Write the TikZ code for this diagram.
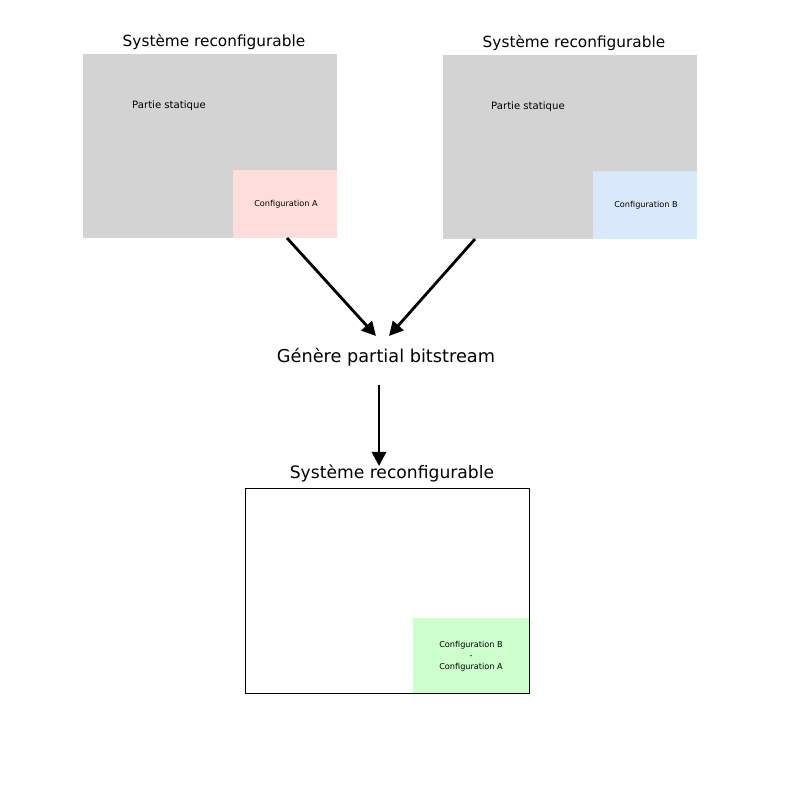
\documentclass[tikz,border=0pt]{standalone}
\usepackage{fontspec}
\setmainfont{DejaVu Sans}
\usetikzlibrary{arrows.meta, calc}

\definecolor{grisStat}{RGB}{211,211,211}
\definecolor{roseA}{RGB}{255,221,221}
\definecolor{bleuB}{RGB}{218,232,252}
\definecolor{vertDiff}{RGB}{204,255,204}

\tikzset{
  titre/.style={font=\fontsize{10.9}{13}\selectfont},
  petit/.style={font=\fontsize{5.8}{7.5}\selectfont, align=center},
  fleche/.style={line width=2pt, -{Triangle[length=10pt, width=10pt]}}
}

\begin{document}
\begin{tikzpicture}[x=0.025cm, y=-0.025cm]
\useasboundingbox (0,0) rectangle (800,800);

% premier systeme
\node[titre] (titreA) at (214,42) {Système reconfigurable};
\fill[grisStat] (83,54) rectangle (337,238);
\node[petit, font=\fontsize{7.2}{9}\selectfont] (statA) at (169,106) {Partie statique};
\fill[roseA] (233,170) rectangle (337,238);
\node[petit] (cfgA) at (286,204) {Configuration A};
\coordinate (basA) at (287,238);

% second systeme
\node[titre] (titreB) at (574,43) {Système reconfigurable};
\fill[grisStat] (443,55) rectangle (697,239);
\node[petit, font=\fontsize{7.2}{9}\selectfont] (statB) at (528,107) {Partie statique};
\fill[bleuB] (593,171) rectangle (697,239);
\node[petit] (cfgB) at (646,205) {Configuration B};
\coordinate (basB) at (475,239);

% generation
\node[font=\fontsize{12.6}{15}\selectfont] (gen) at (386,357) {Génère partial bitstream};
\coordinate (entreeA) at (376,336);
\coordinate (entreeB) at (389,336);
\draw[fleche] (basA) -- (entreeA);
\draw[fleche] (basB) -- (entreeB);

% resultat
\node[titre, font=\fontsize{12.2}{14}\selectfont] (titreC) at (392,473) {Système reconfigurable};
\draw[black, thin] (245,488) rectangle (529,693);
\fill[vertDiff] (413,618) rectangle (529,693);
\node[petit, font=\fontsize{5.8}{7.8}\selectfont] (diff) at (471,656) {Configuration B\\-\\Configuration A};
\coordinate (hautC) at (379,466);
\draw[fleche] (gen.south -| hautC) ++(0,14) -- (hautC);

\end{tikzpicture}
\end{document}
